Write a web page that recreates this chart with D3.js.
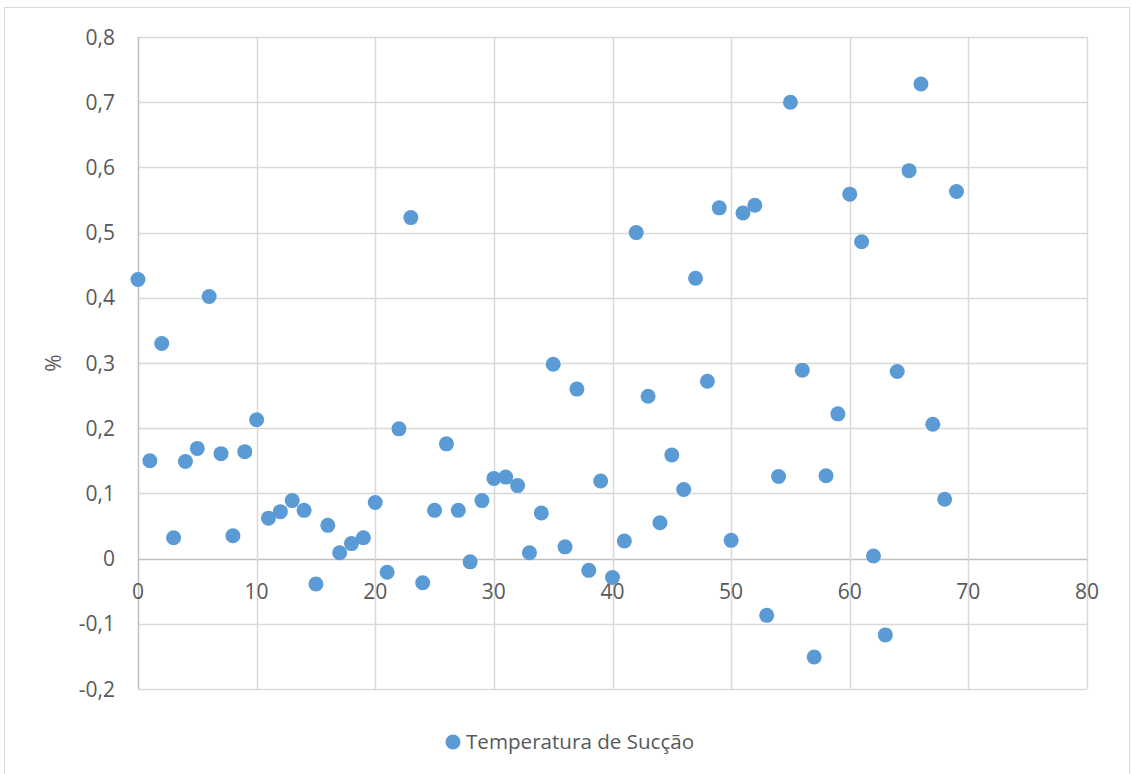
<!DOCTYPE html>
<html>
<head>
<meta charset="utf-8">
<script src="https://cdn.jsdelivr.net/npm/d3@7"></script>
<style>
  body { margin: 0; background: #fff; }
  text { font-family: "Open Sans", sans-serif; fill: #595959; }
</style>
</head>
<body>
<div id="chart"></div>
<script>
// sample index (x) and value in % (y)
var xValues = d3.range(0, 70);
var yValues = [
  0.428, 0.150, 0.330, 0.032, 0.149, 0.169, 0.402, 0.161, 0.035, 0.164,
  0.213, 0.062, 0.072, 0.089, 0.074, -0.039, 0.051, 0.009, 0.023, 0.032,
  0.086, -0.021, 0.199, 0.523, -0.037, 0.074, 0.176, 0.074, -0.005, 0.089,
  0.123, 0.125, 0.112, 0.009, 0.070, 0.298, 0.018, 0.260, -0.018, 0.119,
  -0.029, 0.027, 0.500, 0.249, 0.055, 0.159, 0.106, 0.430, 0.272, 0.538,
  0.028, 0.530, 0.542, -0.087, 0.126, 0.700, 0.289, -0.151, 0.127, 0.222,
  0.559, 0.486, 0.004, -0.117, 0.287, 0.595, 0.728, 0.206, 0.091, 0.563
];
var xTicks = [0, 10, 20, 30, 40, 50, 60, 70, 80];
var yTicks = [-0.2, -0.1, 0, 0.1, 0.2, 0.3, 0.4, 0.5, 0.6, 0.7, 0.8];
var seriesName = "Temperatura de Sucção";
var yTitle = "%";

var w = 1132, h = 774;
var plotL = 138, plotR = 1087, plotT = 37, plotB = 689;

var svg = d3.select("#chart").append("svg")
    .attr("width", w)
    .attr("height", h);

// outer chart border
svg.append("rect")
    .attr("x", 4.5).attr("y", 7.5)
    .attr("width", 1125).attr("height", 790)
    .attr("fill", "none")
    .attr("stroke", "#d9d9d9");

var xScale = d3.scaleLinear().domain([0, 80]).range([plotL, plotR]);
var yScale = d3.scaleLinear().domain([-0.2, 0.8]).range([plotB, plotT]);

var pt = d3.formatLocale({decimal: ",", thousands: ".", grouping: [3], currency: ["", ""], minus: "-"});
var fmt = pt.format(".1f");
function yFmt(d){ return Math.abs(d) < 1e-9 ? "0" : fmt(d); }

// horizontal gridlines
svg.append("g").selectAll("line")
    .data(yTicks)
    .enter().append("line")
    .attr("x1", plotL).attr("x2", plotR)
    .attr("y1", function(d){ return Math.round(yScale(d)) + 0.5; })
    .attr("y2", function(d){ return Math.round(yScale(d)) + 0.5; })
    .attr("stroke", function(d){ return Math.abs(d) < 1e-9 ? "#bfbfbf" : "#d9d9d9"; })
    .attr("stroke-width", 1.5);

// vertical gridlines
svg.append("g").selectAll("line")
    .data(xTicks)
    .enter().append("line")
    .attr("y1", plotT).attr("y2", plotB)
    .attr("x1", function(d){ return Math.round(xScale(d)) + 0.5; })
    .attr("x2", function(d){ return Math.round(xScale(d)) + 0.5; })
    .attr("stroke", function(d){ return d === 0 ? "#bfbfbf" : "#d9d9d9"; })
    .attr("stroke-width", 1.5);

// y tick labels
svg.append("g").selectAll("text")
    .data(yTicks)
    .enter().append("text")
    .attr("x", 115)
    .attr("y", function(d){ return yScale(d); })
    .attr("dy", "0.36em")
    .attr("text-anchor", "end")
    .style("font-size", "21px")
    .text(yFmt);

// x tick labels (sit under the zero line)
svg.append("g").selectAll("text")
    .data(xTicks)
    .enter().append("text")
    .attr("x", function(d){ return xScale(d); })
    .attr("y", yScale(0) + 40)
    .attr("text-anchor", "middle")
    .style("font-size", "21px")
    .text(function(d){ return d; });

// points
svg.append("g").selectAll("circle")
    .data(xValues)
    .enter().append("circle")
    .attr("cx", function(d){ return xScale(d); })
    .attr("cy", function(d, i){ return yScale(yValues[i]); })
    .attr("r", 7.5)
    .attr("fill", "#5b9bd5");

// axis title
svg.append("text")
    .attr("transform", "translate(61," + ((plotT + plotB) / 2) + ") rotate(-90)")
    .attr("text-anchor", "middle")
    .style("font-size", "21px")
    .text(yTitle);

// legend
var legend = svg.append("g").attr("transform", "translate(453,742)");
legend.append("circle").attr("r", 7.5).attr("fill", "#5b9bd5");
legend.append("text")
    .attr("x", 13)
    .attr("dy", "0.36em")
    .style("font-size", "20.6px")
    .text(seriesName);
</script>
</body>
</html>
